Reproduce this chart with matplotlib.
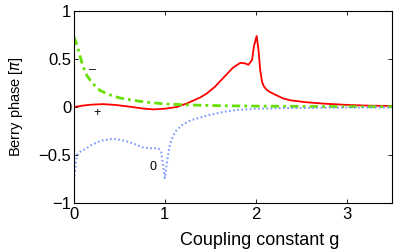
import matplotlib
matplotlib.use("Agg")
import matplotlib.pyplot as plt
import numpy as np

# Berry phase (in units of pi) vs coupling constant g
g_red = [0.0, 0.1, 0.2, 0.32, 0.45, 0.6, 0.75, 0.87, 1.0, 1.13, 1.25, 1.39, 1.46, 1.55, 1.65,
         1.75, 1.83, 1.88, 1.92, 1.96, 1.98, 2.01, 2.03, 2.05, 2.07, 2.09, 2.12, 2.15, 2.2,
         2.3, 2.38, 2.55, 2.75, 3.0, 3.25, 3.5]
ph_red = [0.0, 0.015, 0.025, 0.03, 0.022, 0.005, -0.015, -0.025, -0.018, 0.0, 0.04, 0.1, 0.14,
          0.21, 0.31, 0.41, 0.46, 0.455, 0.44, 0.49, 0.63, 0.74, 0.6, 0.38, 0.26, 0.215,
          0.18, 0.16, 0.135, 0.09, 0.07, 0.05, 0.035, 0.022, 0.014, 0.01]

g_green = [0.0, 0.02, 0.04, 0.066, 0.1, 0.14, 0.2, 0.29, 0.4, 0.5, 0.65, 0.8, 1.0, 1.2, 1.39,
           1.7, 2.0, 2.5, 3.0, 3.5]
ph_green = [0.73, 0.68, 0.62, 0.53, 0.42, 0.33, 0.25, 0.17, 0.125, 0.095, 0.07, 0.05, 0.032,
            0.024, 0.018, 0.012, 0.009, 0.006, 0.004, 0.003]

g_blue = [0.0, 0.01, 0.02, 0.035, 0.06, 0.1, 0.14, 0.2, 0.3, 0.43, 0.55, 0.65, 0.75, 0.84,
          0.93, 0.96, 0.98, 1.0, 1.02, 1.04, 1.06, 1.09, 1.13, 1.2, 1.28, 1.39, 1.5, 1.65,
          1.8, 2.02, 2.3, 2.7, 3.1, 3.5]
ph_blue = [-0.76, -0.68, -0.58, -0.5, -0.47, -0.45, -0.43, -0.39, -0.35, -0.33, -0.35, -0.38,
           -0.42, -0.43, -0.43, -0.47, -0.6, -0.74, -0.6, -0.47, -0.38, -0.3, -0.24, -0.18,
           -0.14, -0.11, -0.08, -0.05, -0.03, -0.018, -0.012, -0.008, -0.006, -0.005]

plt.rcParams['font.family'] = ['Liberation Sans', 'DejaVu Sans']

fig = plt.figure(figsize=(3.95, 2.49), dpi=100)
ax = fig.add_axes([74 / 395, 46 / 249, 318 / 395, 192 / 249])

ax.plot(g_red, ph_red, color='#ff0000', lw=1.3)
ax.plot(g_green, ph_green, color='#66e000', lw=2.0, ls=(0, (3, 1.5, 1, 1.5)))
ax.plot(g_blue, ph_blue, color='#7f99ff', lw=1.5, ls=(0, (0.8, 1.2)))

ax.text(0.2, 0.38, '\u2013', fontsize=9, ha='center', va='center')
ax.text(0.25, -0.06, '+', fontsize=9, ha='center', va='center')
ax.text(0.87, -0.63, '0', fontsize=9, ha='center', va='center')

ax.set_xlim(0, 3.5)
ax.set_ylim(-1, 1)
ax.set_xticks([0, 1, 2, 3])
ax.set_yticks([-1, -0.5, 0, 0.5, 1])
ax.set_yticklabels(['\u22121', '\u22120.5', '0', '0.5', '1'])
ax.tick_params(direction='in', length=3, top=True, right=True, labelsize=12, width=0.6)
ax.tick_params(axis='y', pad=2)
ax.tick_params(axis='x', pad=3)
for s in ax.spines.values():
    s.set_linewidth(0.8)

ax.set_xlabel('Coupling constant g', fontsize=13, va='center')
ax.xaxis.set_label_coords(0.585, -0.195)
ax.set_ylabel('Berry phase [$\\pi$]', fontsize=10.5, labelpad=10)

fig.savefig('out.png', dpi=100)
